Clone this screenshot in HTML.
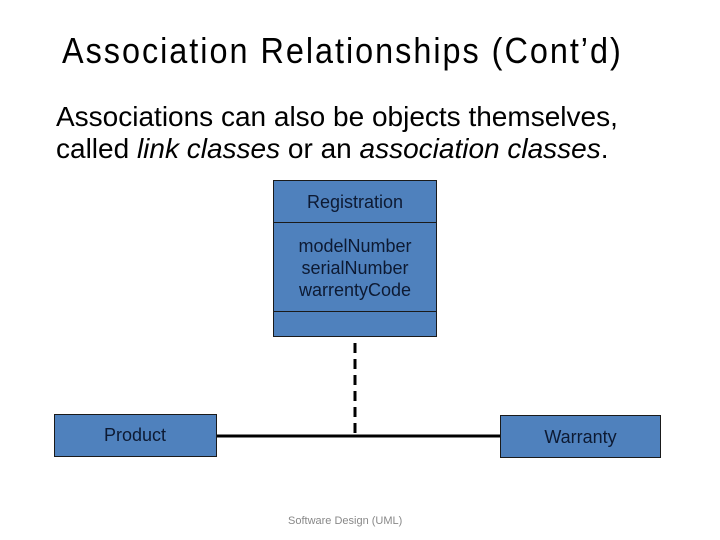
<!DOCTYPE html>
<html><head><style>
body{margin:0;width:720px;height:540px;background:#fff;position:relative;overflow:hidden;font-family:"Liberation Sans",Arial,sans-serif}
.t{position:absolute;white-space:nowrap}
.box{position:absolute;background:#4f81bd;border:1px solid #1a1a1a;box-sizing:border-box;color:#0d1a33;font-size:18px;text-align:center}
</style></head><body>
<div class="t" style="left:62px;top:30px;font-size:36px;letter-spacing:2.2px;transform:scaleX(0.9);transform-origin:left">Association Relationships (Cont’d)</div>
<div class="t" style="left:56px;top:101px;font-size:28px;line-height:32px">Associations can also be objects themselves,<br>called <i>link classes</i> or an <i>association classes</i>.</div>
<div class="box" style="left:273px;top:180px;width:164px;height:157px">
<div style="height:41px;line-height:43px;border-bottom:1px solid #1a1a1a">Registration</div>
<div style="height:89px;border-bottom:1px solid #1a1a1a;line-height:22px;padding-top:12px;box-sizing:border-box">modelNumber<br>serialNumber<br>warrentyCode</div>
</div>
<svg style="position:absolute;left:0;top:0" width="720" height="540">
<line x1="216" y1="436" x2="500" y2="436" stroke="#000" stroke-width="3"/>
<line x1="355" y1="343" x2="355" y2="437" stroke="#000" stroke-width="3" stroke-dasharray="10,6"/>
</svg>
<div class="box" style="left:54px;top:414px;width:163px;height:43px;line-height:41px;text-align:left;padding-left:49px">Product</div>
<div class="box" style="left:500px;top:415px;width:161px;height:43px;line-height:43px">Warranty</div>
<div class="t" style="left:288px;top:515px;font-size:11px;color:#888">Software Design (UML)</div>
</body></html>
